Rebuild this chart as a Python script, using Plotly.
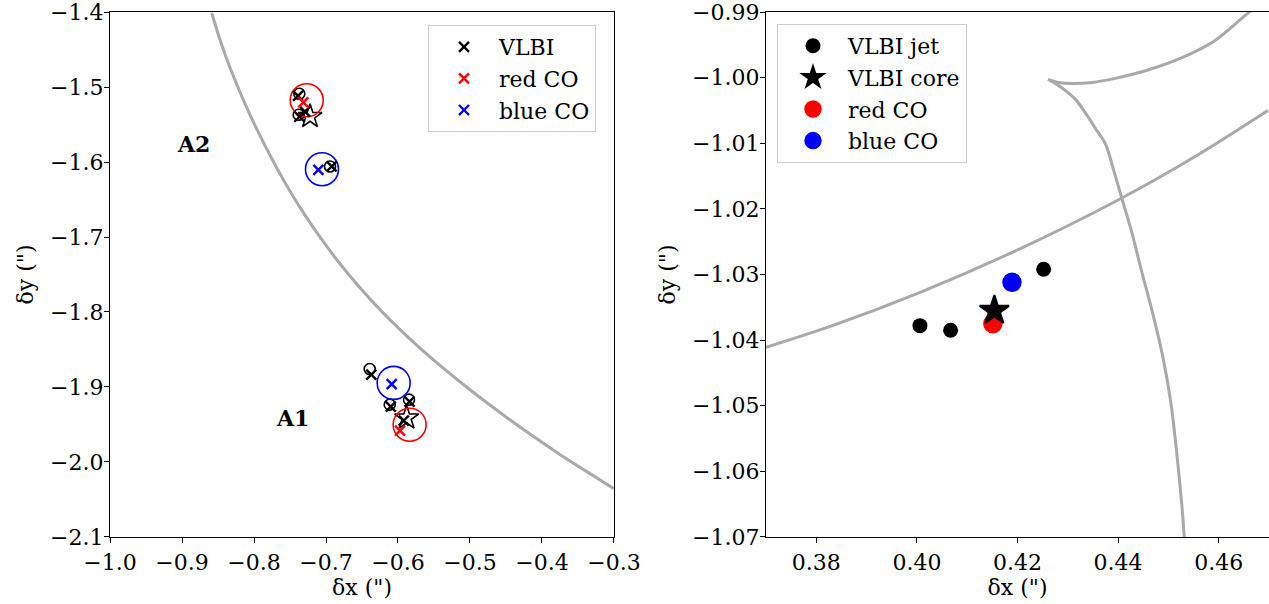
import plotly.graph_objects as go

# ---------------- data: left panel (image plane) ----------------
lens_curve_x = [-0.8588, -0.8472, -0.8333, -0.8125, -0.7917, -0.7708, -0.7500, -0.7292, -0.7083, -0.6806,
                -0.6528, -0.6250, -0.5972, -0.5694, -0.5417, -0.5000, -0.4583, -0.4167, -0.3750, -0.3333, -0.3000]
lens_curve_y = [-1.4013, -1.4372, -1.4743, -1.5223, -1.5649, -1.6036, -1.6389, -1.6709, -1.7003, -1.7356,
                -1.7676, -1.7969, -1.8236, -1.8483, -1.8713, -1.9037, -1.9341, -1.9628, -1.9900, -2.0156, -2.0356]

# VLBI model (open) jet components, A2 then A1
jet_model_x = [-0.7371, -0.7380, -0.6944, -0.6393, -0.6115, -0.5847]
jet_model_y = [-1.5089, -1.5369, -1.6059, -1.8760, -1.9236, -1.9169]
# VLBI model core
core_model_x = [-0.7222, -0.5880]
core_model_y = [-1.5392, -1.9413]
# VLBI observed (x)
vlbi_obs_x = [-0.7389, -0.7370, -0.6921, -0.7292, -0.6371, -0.6100, -0.5840, -0.5920]
vlbi_obs_y = [-1.5117, -1.5396, -1.6059, -1.5329, -1.8836, -1.9263, -1.9196, -1.9449]
# CO predicted (big open circles)
red_model_x = [-0.7268, -0.5838]
red_model_y = [-1.5177, -1.9503]
blue_model_x = [-0.7056, -0.6060]
blue_model_y = [-1.6096, -1.8946]
# CO observed (x)
red_obs_x = [-0.7315, -0.5972]
red_obs_y = [-1.5205, -1.9583]
blue_obs_x = [-0.7106, -0.6088]
blue_obs_y = [-1.6105, -1.8961]

image_labels = ["A2", "A1"]
image_label_x = [-0.8843, -0.7463]
image_label_y = [-1.5756, -1.9413]

left_xticks = [-1.0, -0.9, -0.8, -0.7, -0.6, -0.5, -0.4, -0.3]
left_xticktext = ["\u22121.0", "\u22120.9", "\u22120.8", "\u22120.7", "\u22120.6", "\u22120.5", "\u22120.4", "\u22120.3"]
left_yticks = [-1.4, -1.5, -1.6, -1.7, -1.8, -1.9, -2.0, -2.1]
left_yticktext = ["\u22121.4", "\u22121.5", "\u22121.6", "\u22121.7", "\u22121.8", "\u22121.9", "\u22122.0", "\u22122.1"]

# ---------------- data: right panel (source plane) ----------------
caustic_a_x = [0.3700, 0.3832, 0.4004, 0.4196, 0.4401, 0.4560, 0.4698]
caustic_a_y = [-1.0411, -1.0378, -1.0328, -1.0264, -1.0186, -1.0117, -1.0050]
# cusp caustic: upper branch and lower branch, both starting at the cusp
caustic_up_x = [0.4261, 0.4282, 0.4308, 0.4348, 0.4394, 0.4461, 0.4527, 0.4593, 0.4659, 0.4698]
caustic_up_y = [-1.00027, -1.00074, -1.00090, -1.00074, -1.00011, -0.99880, -0.99696, -0.99433, -0.99012, -0.98780]
caustic_lo_x = [0.4261, 0.4279, 0.4295, 0.4315, 0.4335, 0.4355, 0.4375, 0.4392, 0.4408, 0.4428,
                0.4447, 0.4467, 0.4488, 0.4505, 0.4517, 0.4527, 0.4532]
caustic_lo_y = [-1.00027, -1.00106, -1.00195, -1.00327, -1.00537, -1.00774, -1.01011, -1.01431, -1.01852,
                -1.02377, -1.02956, -1.03534, -1.04218, -1.04954, -1.05744, -1.06533, -1.07047]

src_jet_x = [0.4006, 0.4067, 0.4252]
src_jet_y = [-1.0378, -1.0385, -1.0292]
src_core_x = [0.4154]
src_core_y = [-1.0355]
src_red_x = [0.4151]
src_red_y = [-1.0375]
src_blue_x = [0.4189]
src_blue_y = [-1.0312]

right_xticks = [0.38, 0.40, 0.42, 0.44, 0.46]
right_xticktext = ["0.38", "0.40", "0.42", "0.44", "0.46"]
right_yticks = [-0.99, -1.00, -1.01, -1.02, -1.03, -1.04, -1.05, -1.06, -1.07]
right_yticktext = ["\u22120.99", "\u22121.00", "\u22121.01", "\u22121.02", "\u22121.03",
                   "\u22121.04", "\u22121.05", "\u22121.06", "\u22121.07"]

# ---------------- figure ----------------
FONT = "DejaVu Serif"
FS = 22
GRAY = "#a9a9a9"

fig = go.Figure()

# left panel
fig.add_trace(go.Scatter(x=lens_curve_x, y=lens_curve_y, mode="lines",
                         line=dict(color=GRAY, width=3, shape="spline", smoothing=0.8),
                         showlegend=False, xaxis="x", yaxis="y"))
fig.add_trace(go.Scatter(x=jet_model_x, y=jet_model_y, mode="markers",
                         marker=dict(symbol="circle-open", size=11, color="black", line=dict(width=1.6)),
                         showlegend=False, xaxis="x", yaxis="y"))
fig.add_trace(go.Scatter(x=core_model_x, y=core_model_y, mode="markers",
                         marker=dict(symbol="star-open", size=18, color="black", line=dict(width=1.6)),
                         showlegend=False, xaxis="x", yaxis="y"))
fig.add_trace(go.Scatter(x=red_model_x, y=red_model_y, mode="markers",
                         marker=dict(symbol="circle-open", size=33, color="red", line=dict(width=1.6)),
                         showlegend=False, xaxis="x", yaxis="y"))
fig.add_trace(go.Scatter(x=blue_model_x, y=blue_model_y, mode="markers",
                         marker=dict(symbol="circle-open", size=33, color="blue", line=dict(width=1.6)),
                         showlegend=False, xaxis="x", yaxis="y"))
for xs, ys, col, name in [(vlbi_obs_x, vlbi_obs_y, "black", "VLBI"),
                          (red_obs_x, red_obs_y, "red", "red CO"),
                          (blue_obs_x, blue_obs_y, "blue", "blue CO")]:
    fig.add_trace(go.Scatter(x=xs, y=ys, mode="markers", name=name,
                             marker=dict(symbol="x-thin", size=10, color=col, line=dict(width=2.4, color=col)),
                             legend="legend", xaxis="x", yaxis="y"))

# right panel
fig.add_trace(go.Scatter(x=caustic_a_x, y=caustic_a_y, mode="lines",
                         line=dict(color=GRAY, width=3, shape="spline", smoothing=0.8),
                         showlegend=False, xaxis="x2", yaxis="y2"))
fig.add_trace(go.Scatter(x=caustic_up_x, y=caustic_up_y, mode="lines",
                         line=dict(color=GRAY, width=3, shape="spline", smoothing=0.8),
                         showlegend=False, xaxis="x2", yaxis="y2"))
fig.add_trace(go.Scatter(x=caustic_lo_x, y=caustic_lo_y, mode="lines",
                         line=dict(color=GRAY, width=3, shape="spline", smoothing=0.8),
                         showlegend=False, xaxis="x2", yaxis="y2"))
fig.add_trace(go.Scatter(x=src_jet_x, y=src_jet_y, mode="markers", name="VLBI jet",
                         marker=dict(symbol="circle", size=15, color="black"),
                         legend="legend2", legendrank=1, xaxis="x2", yaxis="y2"))
fig.add_trace(go.Scatter(x=src_red_x, y=src_red_y, mode="markers", name="red CO",
                         marker=dict(symbol="circle", size=18, color="red", line=dict(width=1.5, color="red")),
                         legend="legend2", legendrank=3, xaxis="x2", yaxis="y2"))
fig.add_trace(go.Scatter(x=src_blue_x, y=src_blue_y, mode="markers", name="blue CO",
                         marker=dict(symbol="circle", size=18, color="blue", line=dict(width=1.5, color="blue")),
                         legend="legend2", legendrank=4, xaxis="x2", yaxis="y2"))
fig.add_trace(go.Scatter(x=src_core_x, y=src_core_y, mode="markers", name="VLBI core",
                         marker=dict(symbol="star", size=22, color="black", line=dict(width=2, color="black")),
                         legend="legend2", legendrank=2, xaxis="x2", yaxis="y2"))

for t, ax, ay in zip(image_labels, image_label_x, image_label_y):
    fig.add_annotation(x=ax, y=ay, xref="x", yref="y", text="<b>" + t + "</b>", showarrow=False,
                       font=dict(family=FONT, size=FS, color="black"))

axis_common = dict(showgrid=False, zeroline=False, showline=True, linecolor="black", linewidth=1.3,
                   mirror=True, ticks="outside", ticklen=5, tickwidth=1.3, tickcolor="black",
                   tickfont=dict(family=FONT, size=FS, color="black"), automargin=False,
                   ticklabeloverflow="allow")

W, H = 1269, 604
ML, MR, MT, MB = 110, 0, 12, 67
pw = W - ML - MR
ph = H - MT - MB
left_dom = [0, 504 / pw]
right_dom = [(766 - ML) / pw, 1]

fig.update_layout(
    width=W, height=H,
    margin=dict(l=ML, r=MR, t=MT, b=MB),
    paper_bgcolor="white", plot_bgcolor="white",
    font=dict(family=FONT, size=FS, color="black"),
    xaxis=dict(domain=left_dom, range=[-1.0001, -0.2999], tickvals=left_xticks, ticktext=left_xticktext,
               title=dict(text="\u03b4x (\")", standoff=6, font=dict(family=FONT, size=FS)), anchor="y",
               **axis_common),
    yaxis=dict(domain=[0, 1], range=[-2.1001, -1.3999], tickvals=left_yticks, ticktext=left_yticktext,
               title=dict(text="\u03b4y (\")", standoff=10, font=dict(family=FONT, size=FS)), anchor="x",
               ticklabelstandoff=-4, **axis_common),
    xaxis2=dict(domain=right_dom, range=[0.36999, 0.47001], tickvals=right_xticks, ticktext=right_xticktext,
                title=dict(text="\u03b4x (\")", standoff=6, font=dict(family=FONT, size=FS)), anchor="y2",
                **axis_common),
    yaxis2=dict(domain=[0, 1], range=[-1.07001, -0.98999], tickvals=right_yticks, ticktext=right_yticktext,
                title=dict(text="\u03b4y (\")", standoff=10, font=dict(family=FONT, size=FS)), anchor="x2",
                ticklabelstandoff=-4, **axis_common),
    legend=dict(x=(428 - ML) / pw, y=1 - (25 - MT) / ph, xanchor="left", yanchor="top",
                bgcolor="rgba(255,255,255,0.85)", bordercolor="#cccccc", borderwidth=1,
                font=dict(family=FONT, size=FS, color="black"), itemwidth=60),
    legend2=dict(x=(777 - ML) / pw, y=1 - (24 - MT) / ph, xanchor="left", yanchor="top",
                 bgcolor="rgba(255,255,255,0.85)", bordercolor="#cccccc", borderwidth=1,
                 font=dict(family=FONT, size=FS, color="black"), itemwidth=60),
)

# remove the browser's default 8px page margin so the figure sits at the page origin
fig.write_html("out.html",
               config={"displayModeBar": False},
               post_script="document.body.style.margin='0';document.body.style.overflow='hidden';")
